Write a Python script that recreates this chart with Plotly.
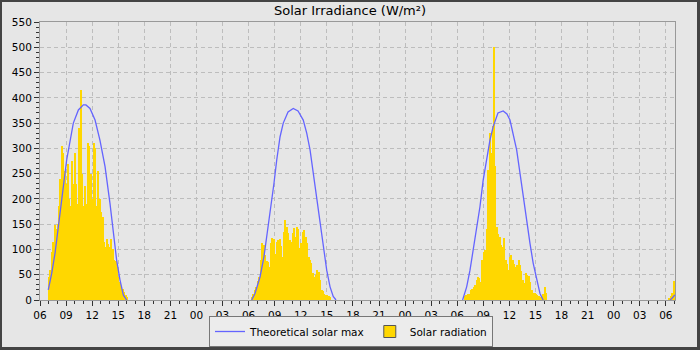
import pandas as pd
import plotly.graph_objects as go

# ---------------------------------------------------------------------------
# Data
# ---------------------------------------------------------------------------
STEP_MIN = 10  # logger interval for measured radiation (minutes)

# Measured solar radiation, 10-minute means (W/m²), one block per day
rad_day1_start = "2023-12-11 06:58"
rad_day1 = [45, 60, 95, 115, 148, 140, 150, 185, 240, 305,
            290, 255, 230, 270, 200, 185, 275, 230, 290, 230,
            190, 340, 415, 250, 185, 225, 190, 310, 305, 250,
            200, 310, 300, 185, 255, 200, 175, 165, 115, 105,
            120, 110, 105, 120, 100, 80, 78, 65, 45, 35,
            28, 22, 15, 10, 5]

rad_day2_start = "2023-12-12 06:20"
rad_day2 = [6, 12, 20, 25, 38, 45, 79, 112, 108, 90,
            78, 75, 66, 112, 122, 120, 92, 115, 119, 120,
            106, 86, 135, 158, 145, 132, 119, 115, 132, 142,
            125, 145, 140, 102, 112, 135, 138, 125, 112, 86,
            80, 73, 53, 46, 50, 59, 55, 40, 20, 17,
            12, 10, 10, 8, 5]

rad_day3_start = "2023-12-13 06:50"
rad_day3 = [8, 10, 12, 12, 20, 22, 26, 30, 40, 46,
            43, 36, 79, 95, 99, 140, 257, 330, 290, 345,
            500, 265, 145, 130, 125, 108, 105, 122, 80, 72,
            60, 86, 90, 79, 72, 66, 70, 79, 70, 58,
            40, 33, 53, 50, 48, 35, 20, 13, 13, 12,
            10, 8, 6, 6, 12, 26, 13]

rad_day4_start = "2023-12-14 06:20"
rad_day4 = [3, 8, 13, 38]

# Theoretical clear-sky maximum (W/m²)
max_day1_times = ["06:57", "07:21", "07:44", "08:18", "08:41", "09:04", "09:50",
                  "10:25", "10:59", "11:17", "11:45", "12:20", "12:54", "13:29",
                  "14:03", "14:26", "14:49", "15:12", "15:35", "15:58"]
max_day1 = [20, 53, 93, 171, 224, 277, 350, 376, 386, 386,
            379, 356, 316, 264, 191, 138, 79, 40, 10, 0]

max_day2_times = ["06:21", "06:44", "07:19", "07:46", "08:08", "08:32", "08:55",
                  "09:14", "09:37", "09:59", "10:32", "11:08", "11:41", "12:17",
                  "12:41", "13:04", "13:26", "13:50", "14:13", "14:35", "14:59",
                  "15:22", "15:44", "16:03"]
max_day2 = [0, 13, 46, 86, 132, 178, 231, 277, 323, 350, 372, 379,
            374, 356, 330, 297, 251, 198, 145, 99, 59, 26, 7, 0]

max_day3_times = ["06:37", "07:05", "07:28", "07:50", "08:14", "08:37", "08:59",
                  "09:23", "09:46", "10:08", "10:41", "11:17", "11:43", "12:04",
                  "12:26", "12:50", "13:13", "13:35", "13:59", "14:22", "14:44",
                  "15:08", "15:31", "15:53"]
max_day3 = [0, 26, 59, 99, 138, 185, 237, 277, 317, 343, 370, 374,
            368, 356, 330, 297, 251, 204, 152, 112, 73, 40, 13, 0]

max_day4_times = ["06:28", "06:41", "07:02"]
max_day4 = [0, 3, 10]

days = ["2023-12-11", "2023-12-12", "2023-12-13", "2023-12-14"]
x_range = ["2023-12-11 06:00", "2023-12-14 07:03"]

# ---------------------------------------------------------------------------
# Styling
# ---------------------------------------------------------------------------
W, H = 700, 350
ML, MR, MT, MB = 40, 25, 22, 50
PW, PH = W - ML - MR, H - MT - MB

BG = "#e6e6e6"
GOLD = "#ffd700"
BLUE = "#6464ff"
GRID = "#bdbdbd"
AXIS = "#999999"
TICK = "#333333"
FONT = "DejaVu Sans"


def px_x(px):
    return (px - ML) / PW


def px_y(py):
    return (H - MB - py) / PH


# ---------------------------------------------------------------------------
# Build series
# ---------------------------------------------------------------------------
rad_x, rad_y = [], []
for start, vals in [(rad_day1_start, rad_day1), (rad_day2_start, rad_day2),
                    (rad_day3_start, rad_day3), (rad_day4_start, rad_day4)]:
    t0 = pd.Timestamp(start)
    for i, v in enumerate(vals):
        rad_x.append(t0 + pd.Timedelta(minutes=STEP_MIN * i))
        rad_y.append(v)

max_x, max_y = [], []
for day, times, vals in [(days[0], max_day1_times, max_day1),
                         (days[1], max_day2_times, max_day2),
                         (days[2], max_day3_times, max_day3),
                         (days[3], max_day4_times, max_day4)]:
    max_x += [pd.Timestamp(f"{day} {t}") for t in times] + [None]
    max_y += list(vals) + [None]

fig = go.Figure()

fig.add_trace(go.Scatter(
    x=max_x, y=max_y, mode="lines", name="Theoretical solar max",
    line=dict(color=BLUE, width=1.3), connectgaps=False, legendrank=1,
))

fig.add_trace(go.Bar(
    x=rad_x, y=rad_y, name="Solar radiation", showlegend=False,
    width=STEP_MIN * 60 * 1000, offset=0,
    marker=dict(color=GOLD, line=dict(width=0)),
))

# legend entry for the radiation bars (outlined swatch)
fig.add_trace(go.Bar(
    x=[None], y=[None], name="Solar radiation", legendrank=2,
    marker=dict(color=GOLD, line=dict(color="#555555", width=1)),
))

axis_common = dict(
    showline=True, linecolor=AXIS, linewidth=1, mirror=True,
    ticks="outside", ticklen=5, tickcolor=TICK, tickwidth=1,
    showgrid=True, gridcolor=GRID, gridwidth=1, griddash="4px,3px",
    zeroline=False,
    tickfont=dict(family=FONT, size=10.5, color="#000000"),
)

fig.update_xaxes(
    type="date", range=x_range, dtick=3 * 3600 * 1000, tickformat="%H",
    minor=dict(dtick=3600 * 1000, ticks="outside", ticklen=3,
               tickcolor=TICK, showgrid=False),
    **axis_common,
)
fig.update_yaxes(
    range=[0, 550], dtick=50,
    minor=dict(dtick=10, ticks="outside", ticklen=3,
               tickcolor=TICK, showgrid=False),
    **axis_common,
)

# dark frame round the whole picture
frame = "#444444"
shapes = [
    dict(x0=px_x(0), x1=px_x(W), y0=px_y(1), y1=px_y(1), width=2),
    dict(x0=px_x(0), x1=px_x(W), y0=px_y(H - 1.5), y1=px_y(H - 1.5), width=3),
    dict(x0=px_x(1), x1=px_x(1), y0=px_y(0), y1=px_y(H), width=2),
    dict(x0=px_x(W - 1.5), x1=px_x(W - 1.5), y0=px_y(0), y1=px_y(H), width=3),
]
fig.update_layout(shapes=[
    dict(type="line", xref="paper", yref="paper",
         x0=s["x0"], x1=s["x1"], y0=s["y0"], y1=s["y1"],
         line=dict(color=frame, width=s["width"]), layer="above")
    for s in shapes
])

fig.update_layout(
    width=W, height=H,
    margin=dict(l=ML, r=MR, t=MT, b=MB, pad=0, autoexpand=False),
    paper_bgcolor=BG, plot_bgcolor=BG,
    bargap=0, bargroupgap=0, barmode="overlay",
    title=dict(text="Solar Irradiance (W/m²)", x=0.5, xref="container",
               xanchor="center", y=1 - 10 / H, yref="container",
               yanchor="middle",
               font=dict(family=FONT, size=13, color="#000000")),
    legend=dict(orientation="h", x=px_x(351), xanchor="center",
                y=px_y(347), yanchor="bottom",
                bgcolor="#ececec", bordercolor="#777777", borderwidth=1,
                font=dict(family=FONT, size=10.5, color="#000000"),
                itemwidth=30, traceorder="normal"),
    showlegend=True,
)

fig.write_html("out.html")
